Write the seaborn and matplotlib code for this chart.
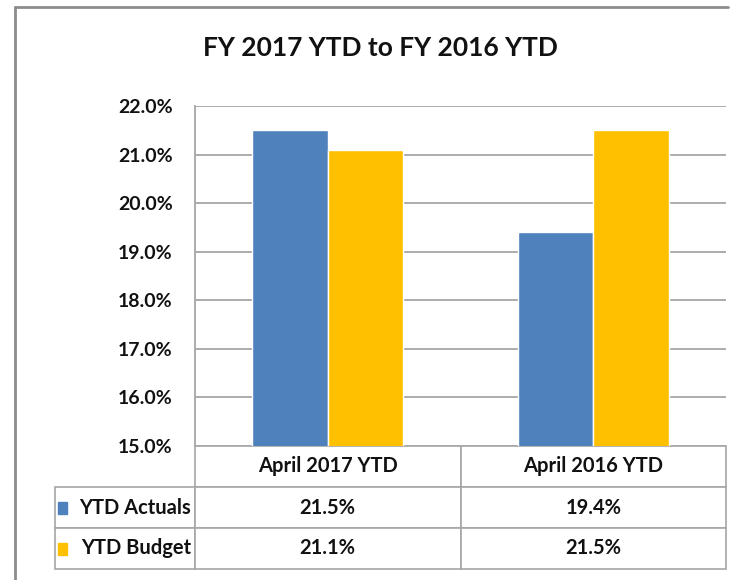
import matplotlib
matplotlib.use("Agg")
import matplotlib.pyplot as plt
import seaborn as sns
import pandas as pd
from matplotlib.ticker import PercentFormatter
from matplotlib.table import Table
from matplotlib.patches import Rectangle
from matplotlib.lines import Line2D

# data
periods = ["April 2017 YTD", "April 2016 YTD"]
series = ["YTD Actuals", "YTD Budget"]
actuals = [21.5, 19.4]
budget = [21.1, 21.5]
colors = ["#4F81BD", "#FFC000"]
yticks = [15, 16, 17, 18, 19, 20, 21, 22]
title = "FY 2017 YTD to FY 2016 YTD"

df = pd.DataFrame({
    "period": periods * 2,
    "series": [series[0]] * len(periods) + [series[1]] * len(periods),
    "value": actuals + budget,
})

sns.set_theme(style="white")
plt.rcParams["font.family"] = ["Lato", "DejaVu Sans"]

W, H = 732, 580
fig = plt.figure(figsize=(W / 100, H / 100), dpi=100)
ax_l, ax_r, ax_t, ax_b = 195, 726, 106, 446
ax = fig.add_axes([ax_l / W, 1 - ax_b / H, (ax_r - ax_l) / W, (ax_b - ax_t) / H])

sns.barplot(data=df, x="period", y="value", hue="series", palette=colors,
            width=0.57, gap=0, saturation=1, legend=False, ax=ax)

ax.set_ylim(yticks[0], yticks[-1])
ax.set_yticks(yticks)
ax.yaxis.set_major_formatter(PercentFormatter(decimals=1))
ax.yaxis.grid(True, color="#a6a6a6", lw=1.3)
ax.set_axisbelow(True)
ax.set_xlabel("")
ax.set_ylabel("")
ax.set_xticks([])
for s in ["top", "right", "bottom"]:
    ax.spines[s].set_visible(False)
ax.spines["left"].set_color("#a6a6a6")
ax.spines["left"].set_linewidth(1.3)
ax.tick_params(axis="y", length=0, pad=16, labelsize=14, labelcolor="#111111")
for lab in ax.get_yticklabels():
    lab.set_fontweight("bold")

# data table under the plot (first column holds the series names)
aw, ah = ax_r - ax_l, ax_b - ax_t
tab_l, tab_b = 55, 569
tb = Table(ax, bbox=[(tab_l - ax_l) / aw, -(tab_b - ax_b) / ah,
                     (ax_r - tab_l) / aw, (tab_b - ax_b) / ah])
lab_w, col_w, row_h = ax_l - tab_l, (ax_r - ax_l) / 2, 41
corner = tb.add_cell(0, 0, width=lab_w, height=row_h, text="")
corner.visible_edges = ""
for j, p in enumerate(periods, start=1):
    tb.add_cell(0, j, width=col_w, height=row_h, text=p, loc="center")
for i, (name, vals) in enumerate(zip(series, [actuals, budget]), start=1):
    c = tb.add_cell(i, 0, width=lab_w, height=row_h, text=name, loc="right")
    c.PAD = 0.03
    for j, v in enumerate(vals, start=1):
        tb.add_cell(i, j, width=col_w, height=row_h, text=f"{v:.1f}%", loc="center")
tb.auto_set_font_size(False)
tb.set_fontsize(14.5)
for cell in tb.get_celld().values():
    cell.set_edgecolor("#a6a6a6")
    cell.set_linewidth(1.2)
    cell.get_text().set_fontweight("bold")
    cell.get_text().set_color("#111111")
ax.add_table(tb)
tb.set_clip_on(False)

# legend keys in the row labels
for i, col in enumerate(colors):
    yc = ax_b + row_h * (i + 1.5)
    fig.add_artist(Rectangle((58 / W, 1 - (yc + 6) / H), 9 / W, 12 / H,
                             transform=fig.transFigure, color=col))

fig.text(380 / W, 1 - 48 / H, title, ha="center", va="center",
         fontsize=19, fontweight="bold", color="#111111")

# chart frame
fig.add_artist(Line2D([15 / W, 15 / W], [0, 1 - 7 / H], transform=fig.transFigure,
                      color="#8c8c8c", lw=2))
fig.add_artist(Line2D([15 / W, 728 / W], [1 - 7 / H, 1 - 7 / H], transform=fig.transFigure,
                      color="#8c8c8c", lw=2))

fig.savefig("out.png", dpi=100)
